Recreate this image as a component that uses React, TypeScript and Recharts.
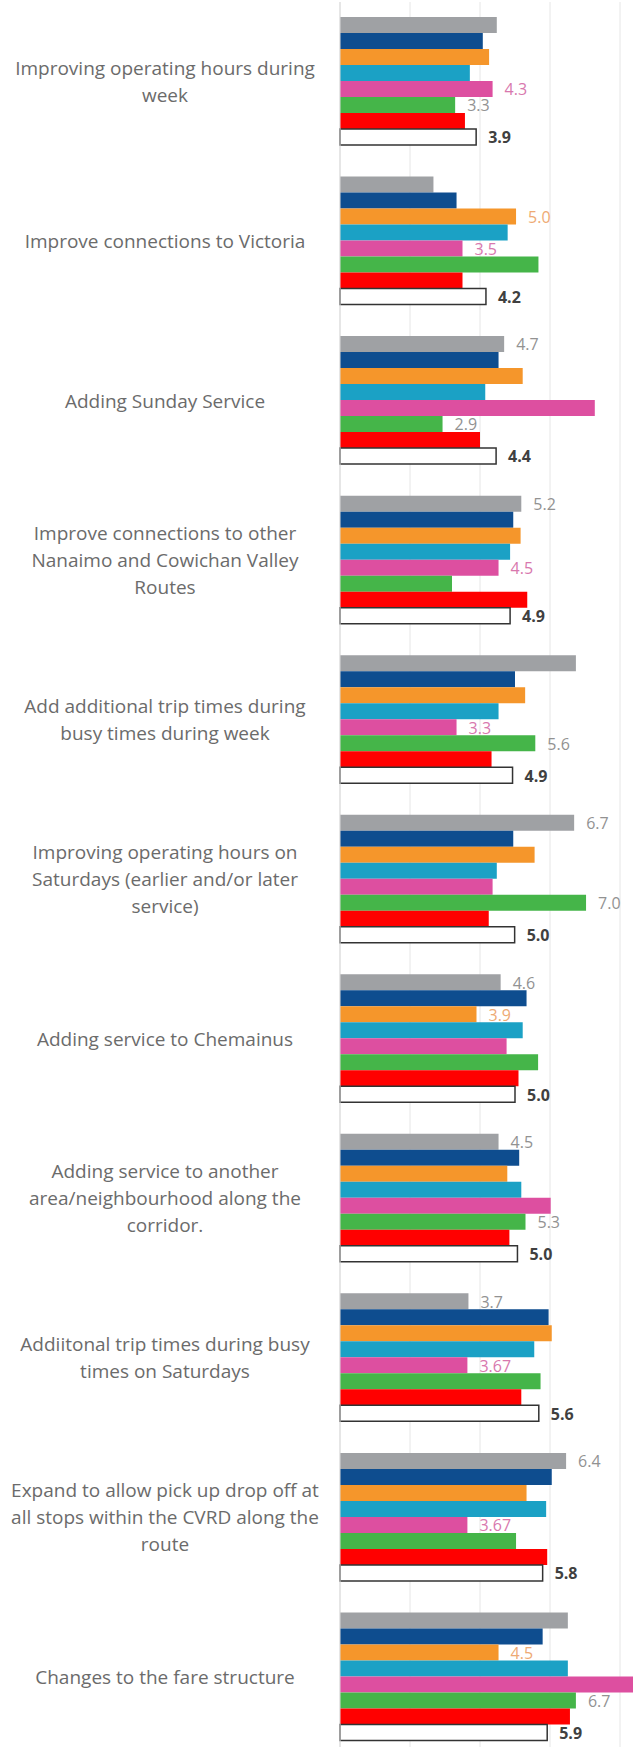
import React from 'react'
import { BarChart, Bar, XAxis, YAxis, CartesianGrid, LabelList } from 'recharts'

const categories = [
  'Improving operating hours during\nweek',
  'Improve connections to Victoria',
  'Adding Sunday Service',
  'Improve connections to other\nNanaimo and Cowichan Valley\nRoutes',
  'Add additional trip times during\nbusy times during week',
  'Improving operating hours on\nSaturdays (earlier and/or later\nservice)',
  'Adding service to Chemainus',
  'Adding service to another\narea/neighbourhood along the\ncorridor.',
  'Addiitonal trip times during busy\ntimes on Saturdays',
  'Expand to allow pick up drop off at\nall stops within the CVRD along the\nroute',
  'Changes to the fare structure',
]

const grayVals = [4.48, 2.67, 4.69, 5.18, 6.74, 6.69, 4.59, 4.53, 3.67, 6.46, 6.51]
const blueVals = [4.08, 3.33, 4.53, 4.95, 5.0, 4.95, 5.33, 5.12, 5.96, 6.05, 5.79]
const orangeVals = [4.26, 5.03, 5.22, 5.16, 5.29, 5.56, 3.9, 4.78, 6.05, 5.33, 4.53]
const tealVals = [3.71, 4.79, 4.15, 4.86, 4.53, 4.48, 5.22, 5.18, 5.55, 5.89, 6.51]
const pinkVals = [4.36, 3.5, 7.28, 4.53, 3.33, 4.36, 4.76, 6.02, 3.64, 3.64, 8.6]
const greenVals = [3.29, 5.67, 2.93, 3.2, 5.58, 7.03, 5.66, 5.3, 5.73, 5.03, 6.74]
const redVals = [3.57, 3.5, 4.0, 5.35, 4.33, 4.25, 5.1, 4.84, 5.18, 5.92, 6.57]
const totalVals = [3.89, 4.17, 4.46, 4.86, 4.93, 4.99, 5.0, 5.07, 5.68, 5.79, 5.92]

const grayLabels = [null, null, '4.7', '5.2', null, '6.7', '4.6', '4.5', '3.7', '6.4', null]
const orangeLabels = [null, '5.0', null, null, null, null, '3.9', null, null, null, '4.5']
const pinkLabels = ['4.3', '3.5', null, '4.5', '3.3', null, null, null, '3.67', '3.67', null]
const greenLabels = ['3.3', null, '2.9', null, '5.6', '7.0', null, '5.3', null, null, '6.7']
const totalLabels = ['3.9', '4.2', '4.4', '4.9', '4.9', '5.0', '5.0', '5.0', '5.6', '5.8', '5.9']

const xTicks = [0, 2, 4, 6, 8]

const data = categories.map((c, i) => ({
  cat: c,
  gray: grayVals[i],
  blue: blueVals[i],
  orange: orangeVals[i],
  teal: tealVals[i],
  pink: pinkVals[i],
  green: greenVals[i],
  red: redVals[i],
  total: totalVals[i],
  grayLabel: grayLabels[i],
  orangeLabel: orangeLabels[i],
  pinkLabel: pinkLabels[i],
  greenLabel: greenLabels[i],
  totalLabel: totalLabels[i],
}))

const FONT = '"Open Sans", Lato, sans-serif'
const LABEL_CX = 165

const CategoryTick = (props: any) => {
  const { y, payload } = props
  const lines = String(payload.value).split('\n')
  const lineH = 27
  const y0 = y - ((lines.length - 1) * lineH) / 2
  return (
    <text x={LABEL_CX} y={y0} textAnchor="middle" fill="#6b6b6b" fontSize={19} fontFamily={FONT}>
      {lines.map((l, i) => (
        <tspan key={i} x={LABEL_CX} y={y0 + i * lineH} dy="0.35em">{l}</tspan>
      ))}
    </text>
  )
}

const valueLabel = (color: string, bold = false) => (props: any) => {
  const vb = props.viewBox ?? props
  const { value } = props
  if (value == null || value === '') return null
  const x = (vb.x ?? 0) + (vb.width ?? 0) + 12
  const y = (vb.y ?? 0) + (vb.height ?? 0) / 2
  return (
    <text x={x} y={y} dy="0.4em" fill={color} fontSize={16}
      fontWeight={bold ? 700 : 400} fontFamily={FONT}>
      {value}
    </text>
  )
}

export default function App() {
  return (
    <div style={{ position: 'absolute', left: 0, top: 0, width: 633, height: 1747, overflow: 'hidden', background: '#fff' }}>
      <BarChart
        width={655}
        height={1757}
        data={data}
        layout="vertical"
        margin={{ top: 2, right: 0, left: 0, bottom: 0 }}
        barCategoryGap={15}
        barGap={0}
      >
        <CartesianGrid horizontal={false} stroke="#e6e6e6" />
        <XAxis type="number" domain={[0, 9]} ticks={xTicks} hide />
        <YAxis
          dataKey="cat"
          type="category"
          width={340}
          tick={<CategoryTick />}
          tickLine={false}
          axisLine={{ stroke: '#d9d9d9' }}
          interval={0}
        />
        <Bar dataKey="gray" fill="#9fa1a4" isAnimationActive={false}>
          <LabelList dataKey="grayLabel" content={valueLabel('#929292')} />
        </Bar>
        <Bar dataKey="blue" fill="#0e4d8f" isAnimationActive={false} />
        <Bar dataKey="orange" fill="#f5962b" isAnimationActive={false}>
          <LabelList dataKey="orangeLabel" content={valueLabel('#eeaa74')} />
        </Bar>
        <Bar dataKey="teal" fill="#1ba1c5" isAnimationActive={false} />
        <Bar dataKey="pink" fill="#dd4fa0" isAnimationActive={false}>
          <LabelList dataKey="pinkLabel" content={valueLabel('#d878ae')} />
        </Bar>
        <Bar dataKey="green" fill="#45b549" isAnimationActive={false}>
          <LabelList dataKey="greenLabel" content={valueLabel('#929292')} />
        </Bar>
        <Bar dataKey="red" fill="#ff0000" isAnimationActive={false} />
        <Bar dataKey="total" fill="#ffffff" stroke="#333333" strokeWidth={1.5} isAnimationActive={false}>
          <LabelList dataKey="totalLabel" content={valueLabel('#404040', true)} />
        </Bar>
      </BarChart>
    </div>
  )
}
